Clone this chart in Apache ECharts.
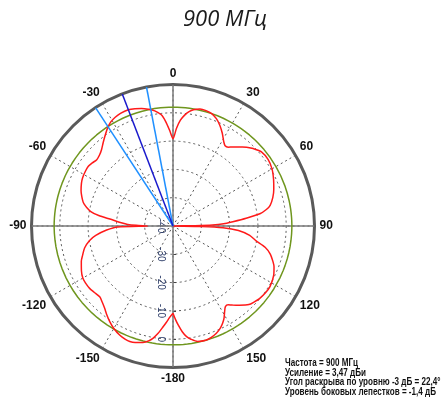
<!DOCTYPE html>
<html><head><meta charset="utf-8">
<script src="https://cdn.jsdelivr.net/npm/echarts/dist/echarts.min.js"></script>
<style>html,body{margin:0;padding:0;background:#fff}#c{width:446px;height:407px}</style>
</head><body><div id="c"></div>
<script>
// Antenna pattern (azimuth, degrees) and gain (dB)
const angles = [-180,-178,-176,-174,-172,-170,-168,-165.5,-162,-159.5,-157,-153.9,-150,-146.5,-143,-140.3,-137,-134,-130,-126.8,-123,-120,-116,-111,-108,-104,-100,-97,-93.5,-91,-90,-89,-88,-86,-84,-82,-80,-78,-76,-75,-72,-69,-65,-62,-58,-55,-52,-49,-46,-43,-40,-37,-34,-31,-28,-25,-21,-18,-15,-12,-9,-6,-4,-2,
  0,2,4,6,8,10,13,16,19,22,25,28,31,33,35,37,40,43,46,50,55,60,65,70,74,78,80,82,84,86,87,88,89,90,91,92,94,97,100,103,106,109.6,112,116,122,126,130,133,136,140,143,145,147,149,151,153,155,158,161,164,168,171,173,175,177,178.5,180];
const gain = [-9.2,-7.8,-5.8,-3.8,-1.6,0.2,1.5,2.5,3.3,3.6,3.4,2.9,1.8,0.5,-1.0,-2.2,-3.3,-4.0,-3.6,-3.2,-3.1,-3.2,-4.0,-5.3,-6.4,-7.8,-10.0,-12.5,-16.5,-20.5,-31,-27,-24,-21,-18.2,-13.5,-10.5,-8.9,-7.6,-7.1,-6.1,-5.2,-4.3,-3.8,-3.5,-3.4,-3.8,-4.3,-3.9,-3.0,-1.6,-0.1,1.5,2.8,3.5,3.9,4.0,3.6,3.0,2.2,1.2,-0.5,-3.0,-6.2,
  -9.2,-5.5,-2.5,-0.6,0.8,1.7,2.4,2.4,2.0,0.9,-0.8,-2.9,-5.2,-6.2,-6.0,-5.0,-3.6,-1.9,-0.6,0.8,1.0,0.4,-0.8,-2.1,-3.3,-4.9,-6.5,-9.0,-14.0,-18.8,-21,-24,-30,-40,-30,-22.3,-16.8,-12.7,-10.3,-6.6,-4.3,-2.5,-1.5,-0.4,0.4,0.3,-0.1,-0.7,-1.4,-3.5,-5.0,-6.0,-6.0,-4.6,-2.8,-1.4,-0.3,0.9,1.6,2.0,1.7,0.5,-0.6,-2.5,-5.0,-7.0,-9.2];
const greenLevel = 2;                       // reference level circle, dB
const beamEdges = [-33.2, -10.8];           // -3 dB beam edges, degrees
const beamCenter = [-21.0];                 // main direction, degrees
const radiusMin = -40, radiusMax = 10, radiusStep = 10;
const angleMin = -180, angleMax = 180, angleStep = 30;
const titleText = '900 МГц';
const infoLines = ['Частота = 900 МГц', 'Усиление = 3,47 дБи', 'Угол раскрыва по уровню -3 дБ = 22,4°', 'Уровень боковых лепестков = -1,4 дБ'];

const chart = echarts.init(document.getElementById('c'), null, {renderer: 'canvas'});
const redData = angles.map((a, i) => [gain[i], a]);
const greenData = angles.map(a => [greenLevel, a]);
const rayData = arr => arr.map(a => ({type: 'line', coordinateSystem: 'polar', symbol: 'none', silent: true, data: [[radiusMin, a], [radiusMax, a]]}));
const series = [];
series.push({type: 'line', coordinateSystem: 'polar', symbol: 'none', silent: true, lineStyle: {color: '#7a7a7a', width: 1.5}, data: [[radiusMax, 0], [radiusMax, 180]]});
series.push({type: 'line', coordinateSystem: 'polar', symbol: 'none', silent: true, lineStyle: {color: '#7a7a7a', width: 1.5}, data: [[radiusMax, -90], [radiusMax, 90]]});
series.push({type: 'line', coordinateSystem: 'polar', symbol: 'none', silent: true, lineStyle: {color: '#6f961e', width: 1.5}, data: greenData});
series.push({type: 'line', coordinateSystem: 'polar', symbol: 'none', silent: true, smooth: 0.25, lineStyle: {color: '#ff1a1a', width: 1.5}, data: redData});
rayData(beamEdges).forEach(s => { s.lineStyle = {color: '#2090ff', width: 1.5}; series.push(s); });
rayData(beamCenter).forEach(s => { s.lineStyle = {color: '#1a1acc', width: 1.5}; series.push(s); });

// fit info text width to the reference's narrow font
const infoFont = 'bold 11px "Liberation Sans", Arial, sans-serif';
const ctx = document.createElement('canvas').getContext('2d');
ctx.font = infoFont;
const sx = 151 / ctx.measureText(infoLines[3]).width;

const graphic = [{type: 'text', x: 225, y: 20, style: {text: titleText, font: 'italic 22px "Open Sans"', fill: '#1a1a1a', textAlign: 'center', textVerticalAlign: 'middle'}}];
infoLines.forEach((t, i) => graphic.push({type: 'text', x: 285, y: 363 + i * 9.7, scaleX: sx, style: {text: t, font: infoFont, fill: '#111', textVerticalAlign: 'middle'}}));

chart.setOption({
  animation: false,
  polar: {center: [173, 226], radius: 141.5},
  angleAxis: {
    type: 'value', min: angleMin, max: angleMax, interval: angleStep, startAngle: -90, clockwise: true,
    axisLine: {lineStyle: {color: '#5a5a5a', width: 3}},
    axisTick: {show: false},
    axisLabel: {margin: 5, color: '#111', fontWeight: 'bold', fontSize: 12, fontFamily: 'Liberation Sans',
      formatter: v => v === angleMax ? '' : String(v)},
    splitLine: {lineStyle: {color: '#555', type: [2, 3], width: 1}}
  },
  radiusAxis: {
    type: 'value', min: radiusMin, max: radiusMax, interval: radiusStep,
    axisLine: {show: false}, axisTick: {show: true, length: 3, lineStyle: {color: '#444'}},
    axisLabel: {rotate: -90, color: '#2a3a66', fontSize: 10, fontFamily: 'Liberation Sans', showMaxLabel: false, margin: -17},
    splitLine: {lineStyle: {color: '#555', type: [2, 3], width: 1}}
  },
  graphic: graphic,
  series: series
});
</script></body></html>
